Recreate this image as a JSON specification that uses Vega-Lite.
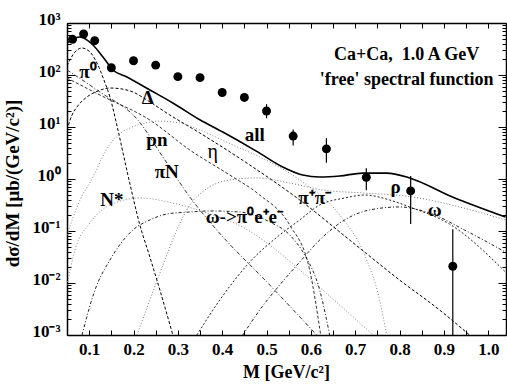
{
  "$schema": "https://vega.github.io/schema/vega-lite/v6.json",
  "width": 439,
  "height": 312,
  "autosize": {"type": "none"},
  "padding": {"left": 67, "top": 23, "right": 1, "bottom": 50},
  "config": {
    "view": {"stroke": null},
    "font": "Liberation Serif",
    "axis": {"labelFont": "Liberation Serif", "labelFontWeight": "bold", "labelFontSize": 17, "labelColor": "#000", "domainColor": "#000", "domainWidth": 1.5, "tickColor": "#000", "tickWidth": 1, "grid": false, "titleFont": "Liberation Serif", "titleFontWeight": "bold", "titleFontSize": 18, "titleColor": "#000"}
  },
  "datasets": {
    "pts": [
      {"m": 0.0625, "y": 486, "lo": 486, "hi": 486},
      {"m": 0.0875, "y": 614, "lo": 614, "hi": 614},
      {"m": 0.1125, "y": 457, "lo": 457, "hi": 457},
      {"m": 0.15, "y": 138, "lo": 118, "hi": 158},
      {"m": 0.2, "y": 188, "lo": 188, "hi": 188},
      {"m": 0.25, "y": 155, "lo": 155, "hi": 155},
      {"m": 0.3, "y": 93, "lo": 93, "hi": 93},
      {"m": 0.35, "y": 89, "lo": 89, "hi": 89},
      {"m": 0.4, "y": 46, "lo": 42, "hi": 50},
      {"m": 0.45, "y": 37, "lo": 31, "hi": 44},
      {"m": 0.5, "y": 20.3, "lo": 14.7, "hi": 27.5},
      {"m": 0.56, "y": 6.7, "lo": 4.4, "hi": 9.0},
      {"m": 0.635, "y": 3.8, "lo": 2.06, "hi": 6.1},
      {"m": 0.725, "y": 1.08, "lo": 0.61, "hi": 1.61},
      {"m": 0.825, "y": 0.59, "lo": 0.136, "hi": 1.14},
      {"m": 0.92, "y": 0.021, "lo": 0.0005, "hi": 0.108}
    ],
    "curves": [
      {"c": "all", "m": 0.05, "y": 412}, {"c": "all", "m": 0.0793, "y": 538}, {"c": "all", "m": 0.1086, "y": 378}, {"c": "all", "m": 0.1311, "y": 222}, {"c": "all", "m": 0.1536, "y": 125}, {"c": "all", "m": 0.1851, "y": 91.6}, {"c": "all", "m": 0.2369, "y": 51.5}, {"c": "all", "m": 0.2887, "y": 29.0}, {"c": "all", "m": 0.3495, "y": 13.8}, {"c": "all", "m": 0.4014, "y": 8.0}, {"c": "all", "m": 0.4779, "y": 3.40}, {"c": "all", "m": 0.5365, "y": 1.70}, {"c": "all", "m": 0.5815, "y": 1.19}, {"c": "all", "m": 0.6198, "y": 1.09}, {"c": "all", "m": 0.6649, "y": 1.14}, {"c": "all", "m": 0.7167, "y": 1.30}, {"c": "all", "m": 0.7707, "y": 1.30}, {"c": "all", "m": 0.8225, "y": 1.05}, {"c": "all", "m": 0.9194, "y": 0.451}, {"c": "all", "m": 1.0387, "y": 0.186},
      {"c": "pi0", "m": 0.05, "y": 149}, {"c": "pi0", "m": 0.068, "y": 277}, {"c": "pi0", "m": 0.0838, "y": 330}, {"c": "pi0", "m": 0.1018, "y": 277}, {"c": "pi0", "m": 0.1176, "y": 170}, {"c": "pi0", "m": 0.1333, "y": 80.2}, {"c": "pi0", "m": 0.1468, "y": 37.8}, {"c": "pi0", "m": 0.1649, "y": 8.75}, {"c": "pi0", "m": 0.1874, "y": 1.19}, {"c": "pi0", "m": 0.2144, "y": 0.13}, {"c": "pi0", "m": 0.2369, "y": 0.0316}, {"c": "pi0", "m": 0.2595, "y": 0.00733}, {"c": "pi0", "m": 0.2887, "y": 0.001},
      {"c": "delta", "m": 0.05, "y": 8.75}, {"c": "delta", "m": 0.0613, "y": 17.0}, {"c": "delta", "m": 0.0725, "y": 24.3}, {"c": "delta", "m": 0.095, "y": 37.8}, {"c": "delta", "m": 0.1198, "y": 49.3}, {"c": "delta", "m": 0.1468, "y": 56.2}, {"c": "delta", "m": 0.1739, "y": 53.8}, {"c": "delta", "m": 0.1986, "y": 47.1}, {"c": "delta", "m": 0.2302, "y": 33.0}, {"c": "delta", "m": 0.282, "y": 17.0}, {"c": "delta", "m": 0.3495, "y": 7.67}, {"c": "delta", "m": 0.4622, "y": 1.86}, {"c": "delta", "m": 0.5748, "y": 0.395}, {"c": "delta", "m": 0.6874, "y": 0.0671}, {"c": "delta", "m": 0.8, "y": 0.0114}, {"c": "delta", "m": 0.8901, "y": 0.00303}, {"c": "delta", "m": 0.9577, "y": 0.001},
      {"c": "eta", "m": 0.05, "y": 87.5}, {"c": "eta", "m": 0.1243, "y": 41.2}, {"c": "eta", "m": 0.2369, "y": 13.6}, {"c": "eta", "m": 0.327, "y": 3.61}, {"c": "eta", "m": 0.4171, "y": 1.19}, {"c": "eta", "m": 0.4847, "y": 0.492}, {"c": "eta", "m": 0.5523, "y": 0.13}, {"c": "eta", "m": 0.5973, "y": 0.0178}, {"c": "eta", "m": 0.6221, "y": 0.001},
      {"c": "piN", "m": 0.05, "y": 125}, {"c": "piN", "m": 0.1243, "y": 47.1}, {"c": "piN", "m": 0.2099, "y": 13.6}, {"c": "piN", "m": 0.2662, "y": 2.65}, {"c": "piN", "m": 0.327, "y": 0.451}, {"c": "piN", "m": 0.3878, "y": 0.1045}, {"c": "piN", "m": 0.5072, "y": 0.00916}, {"c": "piN", "m": 0.6198, "y": 0.00087},
      {"c": "pn", "m": 0.05, "y": 0.0838}, {"c": "pn", "m": 0.0793, "y": 0.395}, {"c": "pn", "m": 0.1086, "y": 1.09}, {"c": "pn", "m": 0.1356, "y": 3.30}, {"c": "pn", "m": 0.1581, "y": 6.14}, {"c": "pn", "m": 0.1919, "y": 9.57}, {"c": "pn", "m": 0.2257, "y": 11.9}, {"c": "pn", "m": 0.2595, "y": 13.0}, {"c": "pn", "m": 0.3045, "y": 11.9}, {"c": "pn", "m": 0.3495, "y": 8.75}, {"c": "pn", "m": 0.4239, "y": 4.51}, {"c": "pn", "m": 0.4847, "y": 2.65}, {"c": "pn", "m": 0.5748, "y": 0.957}, {"c": "pn", "m": 0.6649, "y": 0.203}, {"c": "pn", "m": 0.7212, "y": 0.0345}, {"c": "pn", "m": 0.755, "y": 0.00471}, {"c": "pn", "m": 0.7707, "y": 0.001},
      {"c": "nstar", "m": 0.05, "y": 0.00916}, {"c": "nstar", "m": 0.068, "y": 0.0431}, {"c": "nstar", "m": 0.1018, "y": 0.143}, {"c": "nstar", "m": 0.1468, "y": 0.316}, {"c": "nstar", "m": 0.2144, "y": 0.431}, {"c": "nstar", "m": 0.2887, "y": 0.345}, {"c": "nstar", "m": 0.3653, "y": 0.222}, {"c": "nstar", "m": 0.4464, "y": 0.119}, {"c": "nstar", "m": 0.5072, "y": 0.0538}, {"c": "nstar", "m": 0.5748, "y": 0.0178}, {"c": "nstar", "m": 0.6649, "y": 0.00378}, {"c": "nstar", "m": 0.7482, "y": 0.00087},
      {"c": "omdal", "m": 0.0838, "y": 0.001}, {"c": "omdal", "m": 0.1131, "y": 0.00733}, {"c": "omdal", "m": 0.1468, "y": 0.0277}, {"c": "omdal", "m": 0.1986, "y": 0.1045}, {"c": "omdal", "m": 0.2369, "y": 0.163}, {"c": "omdal", "m": 0.2752, "y": 0.212}, {"c": "omdal", "m": 0.327, "y": 0.232}, {"c": "omdal", "m": 0.372, "y": 0.243}, {"c": "omdal", "m": 0.4396, "y": 0.232}, {"c": "omdal", "m": 0.5072, "y": 0.149}, {"c": "omdal", "m": 0.5523, "y": 0.0838}, {"c": "omdal", "m": 0.586, "y": 0.0345}, {"c": "omdal", "m": 0.6198, "y": 0.00733}, {"c": "omdal", "m": 0.6423, "y": 0.001},
      {"c": "rho", "m": 0.2077, "y": 0.001}, {"c": "rho", "m": 0.2369, "y": 0.00471}, {"c": "rho", "m": 0.2707, "y": 0.0277}, {"c": "rho", "m": 0.2977, "y": 0.1045}, {"c": "rho", "m": 0.327, "y": 0.316}, {"c": "rho", "m": 0.3608, "y": 0.614}, {"c": "rho", "m": 0.4171, "y": 0.957}, {"c": "rho", "m": 0.4779, "y": 1.05}, {"c": "rho", "m": 0.5523, "y": 0.838}, {"c": "rho", "m": 0.6266, "y": 0.614}, {"c": "rho", "m": 0.7167, "y": 0.538}, {"c": "rho", "m": 0.8293, "y": 0.451}, {"c": "rho", "m": 0.9351, "y": 0.29}, {"c": "rho", "m": 1.0387, "y": 0.163},
      {"c": "pipi", "m": 0.3428, "y": 0.001}, {"c": "pipi", "m": 0.3946, "y": 0.00471}, {"c": "pipi", "m": 0.4622, "y": 0.0253}, {"c": "pipi", "m": 0.5297, "y": 0.0838}, {"c": "pipi", "m": 0.5748, "y": 0.163}, {"c": "pipi", "m": 0.6198, "y": 0.316}, {"c": "pipi", "m": 0.6761, "y": 0.431}, {"c": "pipi", "m": 0.7212, "y": 0.492}, {"c": "pipi", "m": 0.7775, "y": 0.395}, {"c": "pipi", "m": 0.8225, "y": 0.29}, {"c": "pipi", "m": 0.9126, "y": 0.136}, {"c": "pipi", "m": 1.0387, "y": 0.0163},
      {"c": "omega", "m": 0.4464, "y": 0.001}, {"c": "omega", "m": 0.4847, "y": 0.00303}, {"c": "omega", "m": 0.5297, "y": 0.00916}, {"c": "omega", "m": 0.5748, "y": 0.0253}, {"c": "omega", "m": 0.6198, "y": 0.0671}, {"c": "omega", "m": 0.6761, "y": 0.163}, {"c": "omega", "m": 0.7324, "y": 0.254}, {"c": "omega", "m": 0.8, "y": 0.29}, {"c": "omega", "m": 0.8676, "y": 0.222}, {"c": "omega", "m": 0.9464, "y": 0.1045}, {"c": "omega", "m": 1.0387, "y": 0.0394}
    ],
    "labels": [
      {"t": "π⁰", "m": 0.097, "y": 114, "k": "b"},
      {"t": "Δ", "m": 0.232, "y": 36, "k": "b"},
      {"t": "pn", "m": 0.2527, "y": 5.6, "k": "b"},
      {"t": "πN", "m": 0.275, "y": 1.36, "k": "b"},
      {"t": "N*", "m": 0.151, "y": 0.395, "k": "b"},
      {"t": "all", "m": 0.4734, "y": 7.02, "k": "b"},
      {"t": "η", "m": 0.3788, "y": 3.3, "k": "p"},
      {"t": "ω->π⁰e⁺e⁻", "m": 0.45, "y": 0.186, "k": "b"},
      {"t": "π⁺π⁻", "m": 0.6086, "y": 0.431, "k": "b"},
      {"t": "ρ", "m": 0.791, "y": 0.7, "k": "b"},
      {"t": "ω", "m": 0.879, "y": 0.254, "k": "b"},
      {"t": "Ca+Ca,\u00a0 1.0 A GeV", "m": 0.816, "y": 243, "k": "t"},
      {"t": "'free' spectral function", "m": 0.816, "y": 80.2, "k": "t"}
    ]
  },
  "layer": [
    {
      "data": {"name": "curves"},
      "transform": [{"filter": "datum.c != 'all'"}],
      "mark": {"type": "line", "clip": true, "strokeWidth": 1, "interpolate": "monotone"},
      "encoding": {
        "x": {"field": "m", "type": "quantitative", "scale": {"domain": [0.05, 1.04], "nice": false, "zero": false},
          "axis": {"orient": "bottom", "values": [0.05,0.1,0.15,0.2,0.25,0.3,0.35,0.4,0.45,0.5,0.55,0.6,0.65,0.7,0.75,0.8,0.85,0.9,0.95,1.0],
            "labelExpr": "abs(datum.value*10 - round(datum.value*10)) < 0.001 ? format(datum.value, '.1f') : ''",
            "tickSize": -5, "labelPadding": 11, "labelFlush": false, "labelOverlap": false,
            "title": "M [GeV/c²]", "titleX": 219, "titleY": 37, "titleBaseline": "middle", "titleAlign": "center"}},
        "y": {"field": "y", "type": "quantitative", "scale": {"type": "log", "domain": [0.001, 1000], "nice": false},
          "axis": {"orient": "left", "values": [0.001,0.002,0.003,0.004,0.005,0.006,0.007,0.008,0.009,0.01,0.02,0.03,0.04,0.05,0.06,0.07,0.08,0.09,0.1,0.2,0.3,0.4,0.5,0.6,0.7,0.8,0.9,1,2,3,4,5,6,7,8,9,10,20,30,40,50,60,70,80,90,100,200,300,400,500,600,700,800,900,1000],
            "labelExpr": "datum.value==1000?'10³':datum.value==100?'10²':datum.value==10?'10¹':datum.value==1?'10⁰':datum.value==0.1?'10⁻¹':datum.value==0.01?'10⁻²':datum.value==0.001?'10⁻³':''",
            "tickSize": {"condition": {"test": "indexof([0.001,0.01,0.1,1,10,100,1000], datum.value) >= 0", "value": -8}, "value": -4},
            "labelPadding": 15, "labelOffset": -4, "labelFlush": false, "labelOverlap": false, "labelBaseline": "middle",
            "title": "dσ/dM  [μb/(GeV/c²)]", "titleFontSize": 19, "titleX": -55, "titleY": 160, "titleAngle": -90, "titleAlign": "center", "titleBaseline": "middle"}},
        "color": {"field": "c", "type": "nominal", "legend": null,
          "scale": {"domain": ["pi0","delta","eta","piN","pn","nstar","omdal","rho","pipi","omega"], "range": ["#000000","#000000","#333333","#333333","#888888","#888888","#222222","#777777","#222222","#222222"]}},
        "strokeDash": {"field": "c", "type": "nominal", "legend": null,
          "scale": {"domain": ["pi0","delta","eta","piN","pn","nstar","omdal","rho","pipi","omega"], "range": [[3,2],[3,2],[3,2],[4,2,1,2],[1,2],[1,2],[3,2,1,2],[1,2],[2,2],[3,2,1,2]]}}
      }
    },
    {
      "data": {"name": "curves"},
      "transform": [{"filter": "datum.c == 'all'"}],
      "mark": {"type": "line", "clip": true, "strokeWidth": 1.6, "color": "#000", "interpolate": "monotone"},
      "encoding": {
        "x": {"field": "m", "type": "quantitative", "scale": {"domain": [0.05, 1.04], "nice": false, "zero": false},
          "axis": {"orient": "top", "values": [0.05,0.1,0.15,0.2,0.25,0.3,0.35,0.4,0.45,0.5,0.55,0.6,0.65,0.7,0.75,0.8,0.85,0.9,0.95,1.0], "labels": false, "tickSize": -5, "title": null}},
        "y": {"field": "y", "type": "quantitative", "scale": {"type": "log", "domain": [0.001, 1000], "nice": false},
          "axis": {"orient": "right", "values": [0.001,0.002,0.003,0.004,0.005,0.006,0.007,0.008,0.009,0.01,0.02,0.03,0.04,0.05,0.06,0.07,0.08,0.09,0.1,0.2,0.3,0.4,0.5,0.6,0.7,0.8,0.9,1,2,3,4,5,6,7,8,9,10,20,30,40,50,60,70,80,90,100,200,300,400,500,600,700,800,900,1000],
            "labels": false, "title": null,
            "tickSize": {"condition": {"test": "indexof([0.001,0.01,0.1,1,10,100,1000], datum.value) >= 0", "value": -8}, "value": -4}}}
      }
    },
    {
      "data": {"name": "pts"},
      "mark": {"type": "rule", "clip": true, "color": "#000", "strokeWidth": 1.2},
      "encoding": {
        "x": {"field": "m", "type": "quantitative", "scale": {"domain": [0.05, 1.04], "nice": false, "zero": false}, "axis": null},
        "y": {"field": "lo", "type": "quantitative", "scale": {"type": "log", "domain": [0.001, 1000], "nice": false}, "axis": null},
        "y2": {"field": "hi"}
      }
    },
    {
      "data": {"name": "pts"},
      "mark": {"type": "circle", "clip": true, "color": "#000", "opacity": 1, "size": 80},
      "encoding": {
        "x": {"field": "m", "type": "quantitative", "scale": {"domain": [0.05, 1.04], "nice": false, "zero": false}, "axis": null},
        "y": {"field": "y", "type": "quantitative", "scale": {"type": "log", "domain": [0.001, 1000], "nice": false}, "axis": null}
      }
    },
    {
      "data": {"name": "labels"},
      "transform": [{"filter": "datum.k == 'b'"}],
      "mark": {"type": "text", "font": "Liberation Serif", "fontWeight": "bold", "fontSize": 19, "color": "#000", "align": "center", "baseline": "middle"},
      "encoding": {
        "x": {"field": "m", "type": "quantitative", "scale": {"domain": [0.05, 1.04], "nice": false, "zero": false}, "axis": null},
        "y": {"field": "y", "type": "quantitative", "scale": {"type": "log", "domain": [0.001, 1000], "nice": false}, "axis": null},
        "text": {"field": "t"}
      }
    },
    {
      "data": {"name": "labels"},
      "transform": [{"filter": "datum.k == 'p'"}],
      "mark": {"type": "text", "font": "Liberation Serif", "fontSize": 20, "color": "#000", "align": "center", "baseline": "middle"},
      "encoding": {
        "x": {"field": "m", "type": "quantitative", "scale": {"domain": [0.05, 1.04], "nice": false, "zero": false}, "axis": null},
        "y": {"field": "y", "type": "quantitative", "scale": {"type": "log", "domain": [0.001, 1000], "nice": false}, "axis": null},
        "text": {"field": "t"}
      }
    },
    {
      "data": {"name": "labels"},
      "transform": [{"filter": "datum.k == 't'"}],
      "mark": {"type": "text", "font": "Liberation Serif", "fontWeight": "bold", "fontSize": 18, "color": "#000", "align": "center", "baseline": "middle"},
      "encoding": {
        "x": {"field": "m", "type": "quantitative", "scale": {"domain": [0.05, 1.04], "nice": false, "zero": false}, "axis": null},
        "y": {"field": "y", "type": "quantitative", "scale": {"type": "log", "domain": [0.001, 1000], "nice": false}, "axis": null},
        "text": {"field": "t"}
      }
    }
  ],
  "resolve": {"axis": {"x": "independent", "y": "independent"}}
}
